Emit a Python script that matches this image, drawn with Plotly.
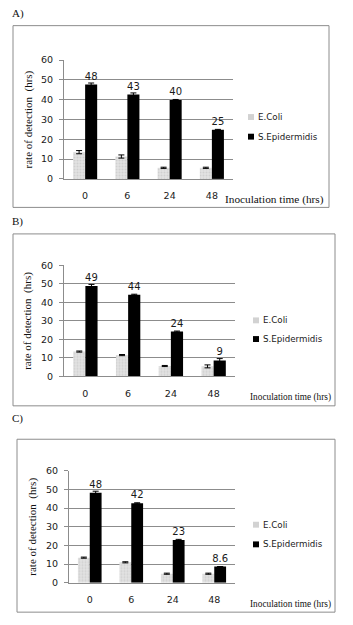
import plotly.graph_objects as go

W, H = 353, 625

categories = ["0", "6", "24", "48"]

ecoli_a = [13.5, 11.3, 5.6, 5.6]
ecoli_a_err = [0.8, 0.8, 0.3, 0.3]
sepi_a = [47.6, 42.6, 39.8, 24.8]
sepi_a_err = [0.8, 0.8, 0.3, 0.2]
sepi_a_labels = ["48", "43", "40", "25"]

ecoli_b = [13.4, 11.5, 5.6, 5.4]
ecoli_b_err = [0.3, 0.3, 0.3, 0.8]
sepi_b = [48.9, 44.1, 24.2, 8.6]
sepi_b_err = [0.8, 0.3, 0.3, 1.0]
sepi_b_labels = ["49", "44", "24", "9"]

ecoli_c = [13.4, 10.9, 4.8, 4.8]
ecoli_c_err = [0.3, 0.3, 0.3, 0.3]
sepi_c = [48.2, 42.5, 22.9, 8.6]
sepi_c_err = [0.8, 0.3, 0.3, 0.0]
sepi_c_labels = ["48", "42", "23", "8.6"]

panel_letters = ["A)", "B)", "C)"]
series_names = ["E.Coli", "S.Epidermidis"]
series_colors = ["#d2d2d2", "#000000"]
x_title = "Inoculation time (hrs)"
y_title = "rate of detection  (hrs)"

TICKFONT = dict(family="DejaVu Sans", size=9.5, color="#1a1a1a")
SERIF = "Liberation Serif"

def px_x(p):
    return p / W

def px_y(p):
    return 1 - p / H

# panel geometry in pixels
panels = [
    dict(box=(13, 20, 329, 205), plot=(64, 55, 233, 176), leg=(248, 113, 133), xt=(326, 197, 11.3),
         yt=28, letter=(10, 8), ec=(ecoli_a, ecoli_a_err), se=(sepi_a, sepi_a_err, sepi_a_labels)),
    dict(box=(13, 232, 335, 407), plot=(64, 264, 235, 377), leg=(253, 320, 339), xt=(333, 399, 9.3),
         yt=28, letter=(10, 219), ec=(ecoli_b, ecoli_b_err), se=(sepi_b, sepi_b_err, sepi_b_labels)),
    dict(box=(17, 441, 335, 617), plot=(69, 473, 235, 587), leg=(253, 528, 548), xt=(333, 609, 9.3),
         yt=33, letter=(10, 420), ec=(ecoli_c, ecoli_c_err), se=(sepi_c, sepi_c_err, sepi_c_labels)),
]

fig = go.Figure()
shapes = []
annotations = []
layout = {}

for i, p in enumerate(panels):
    n = "" if i == 0 else str(i + 1)
    xa, ya = "x" + n, "y" + n
    ec_vals, ec_err = p["ec"]
    se_vals, se_err, se_lab = p["se"]
    fig.add_trace(go.Bar(
        x=categories, y=ec_vals, name=series_names[0], xaxis=xa, yaxis=ya, showlegend=False,
        marker=dict(color="#d6d6d6", line=dict(width=0),
                    pattern=dict(shape=".", fgcolor="#bdbdbd", bgcolor="#e2e2e2", size=3, solidity=0.35)),
        error_y=dict(type="data", array=ec_err, color="black", thickness=1, width=3),
        cliponaxis=False,
    ))
    fig.add_trace(go.Bar(
        x=categories, y=se_vals, name=series_names[1], xaxis=xa, yaxis=ya, showlegend=False,
        marker=dict(color="black", line=dict(width=0)),
        error_y=dict(type="data", array=se_err, color="black", thickness=1, width=3),
        text=se_lab, textposition="outside", constraintext="none",
        textfont=dict(family="DejaVu Sans", size=10, color="#1a1a1a"),
        cliponaxis=False,
    ))
    x0, y0, x1, y1 = p["plot"]
    layout["xaxis" + n] = dict(
        domain=[px_x(x0), px_x(x1)], anchor=ya, type="category",
        showline=True, linecolor="#8c8c8c", linewidth=1, ticks="", showgrid=False,
        tickfont=TICKFONT, ticklabelstandoff=8,
    )
    layout["yaxis" + n] = dict(
        domain=[px_y(y1), px_y(y0)], anchor=xa, range=[0, 60], dtick=10,
        showline=True, linecolor="#8c8c8c", linewidth=1, ticks="outside", ticklen=4, tickcolor="#8c8c8c",
        showgrid=True, gridcolor="#8c8c8c", gridwidth=1, zeroline=False,
        tickfont=TICKFONT, ticklabelstandoff=4,
    )
    # legend (squares + labels)
    lx, ly1, ly2 = p["leg"]
    for name, col, ly in zip(series_names, series_colors, (ly1, ly2)):
        shapes.append(dict(type="rect", xref="paper", yref="paper",
                           x0=px_x(lx), x1=px_x(lx + 6), y0=px_y(ly + 3), y1=px_y(ly - 3),
                           line=dict(width=0), fillcolor=col))
        annotations.append(dict(text=name, xref="paper", yref="paper", x=px_x(lx + 7.5), y=px_y(ly),
                                xanchor="left", yanchor="middle", showarrow=False,
                                font=dict(family="DejaVu Sans", size=8.7, color="#1a1a1a")))
    bx0, by0, bx1, by1 = p["box"]
    shapes.append(dict(type="rect", xref="paper", yref="paper",
                       x0=px_x(bx0), x1=px_x(bx1), y0=px_y(by1), y1=px_y(by0),
                       line=dict(color="#8c8c8c", width=1), fillcolor="rgba(0,0,0,0)"))
    tx, ty, ts = p["xt"]
    annotations.append(dict(text=x_title, xref="paper", yref="paper", x=px_x(tx), y=px_y(ty),
                            xanchor="right", yanchor="middle", showarrow=False,
                            font=dict(family=SERIF, size=ts, color="#111")))
    annotations.append(dict(text=y_title, xref="paper", yref="paper", x=px_x(p["yt"]),
                            y=px_y((y0 + y1) / 2), xanchor="center", yanchor="middle",
                            textangle=-90, showarrow=False,
                            font=dict(family=SERIF, size=11, color="#111")))
    lx2, ly2 = p["letter"]
    annotations.append(dict(text=panel_letters[i], xref="paper", yref="paper", x=px_x(lx2), y=px_y(ly2),
                            xanchor="left", yanchor="middle", showarrow=False,
                            font=dict(family=SERIF, size=11, color="#111")))

fig.update_layout(
    width=W, height=H, margin=dict(l=0, r=0, t=0, b=0),
    paper_bgcolor="white", plot_bgcolor="white",
    barmode="group", bargap=0.43, bargroupgap=0,
    shapes=shapes, annotations=annotations, showlegend=False,
    **layout,
)

fig.write_html("out.html", config={"displayModeBar": False},
               post_script="document.body.style.margin='0';")
